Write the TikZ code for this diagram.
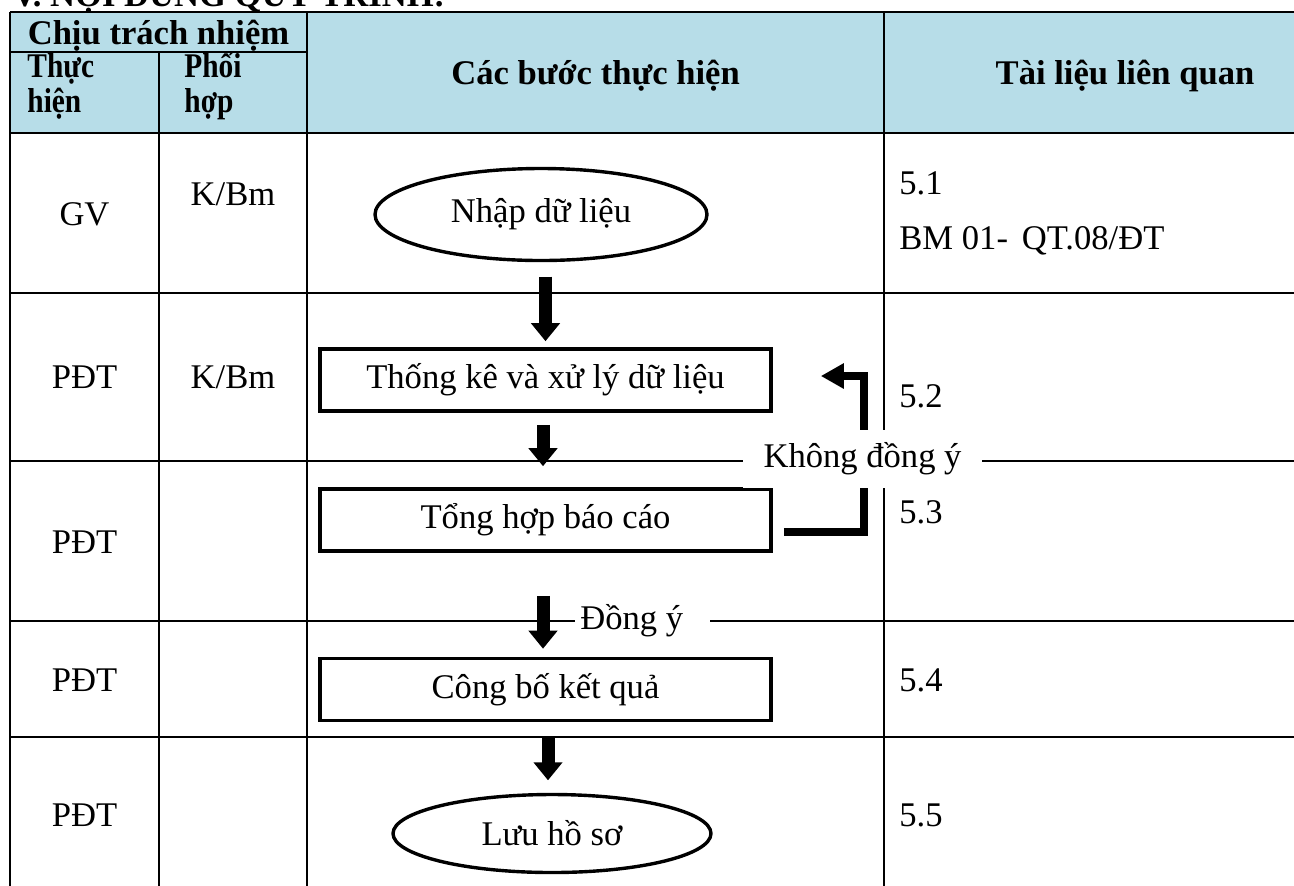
\documentclass[tikz,border=0pt]{standalone}
\usepackage{fontspec}
\setmainfont{Liberation Serif}
\usetikzlibrary{arrows.meta,shapes.geometric}
\definecolor{hdrblue}{RGB}{183,221,232}
\newcommand{\narrowtxt}[1]{\scalebox{0.85}[1]{#1}}
\begin{document}
\begin{tikzpicture}[x=0.5pt,y=-0.5pt,
  every node/.style={font=\fontsize{17.3pt}{21pt}\selectfont, inner sep=0pt},
  hdr/.style={font=\fontsize{17.3pt}{21pt}\selectfont\bfseries},
  grid/.style={line width=1.2pt},
  stepbox/.style={draw, line width=1.8pt, minimum width=225.5pt, minimum height=31pt},
  oval/.style={draw, ellipse, line width=1.7pt},
  flow/.style={line width=6.5pt, -{Triangle[width=14pt,length=9pt]}},
  back/.style={line width=4pt, -{Triangle[width=12pt,length=11.5pt]}},
  tag/.style={fill=white}
]
\useasboundingbox (0,0) rectangle (1294,885);

% header background and grid
\fill[hdrblue] (10,12) rectangle (1310,133);
\draw[grid] (10,12) -- (1310,12);
\draw[grid] (10,52) -- (307,52);
\draw[grid] (10,133) -- (1310,133);
\draw[grid] (10,293) -- (1310,293);
\draw[grid] (10,461) -- (1310,461);
\draw[grid] (10,621) -- (1310,621);
\draw[grid] (10,737) -- (1310,737);
\draw[grid] (10,12) -- (10,895);
\draw[grid] (159,52) -- (159,895);
\draw[grid] (307,12) -- (307,895);
\draw[grid] (884,12) -- (884,895);

% title (cut off by the page top, as in the reference)
\node[hdr, anchor=base west] (title) at (12,6) {V. NỘI DUNG QUY TRÌNH:};

% header texts
\node[hdr, anchor=base] (hresp) at (158.5,44) {Chịu trách nhiệm};
\node[hdr, anchor=base west] (hdo1) at (27,77) {\narrowtxt{Thực}};
\node[hdr, anchor=base west] (hdo2) at (27,112) {\narrowtxt{hiện}};
\node[hdr, anchor=base west] (hco1) at (184,77) {\narrowtxt{Phối}};
\node[hdr, anchor=base west] (hco2) at (184,112) {\narrowtxt{hợp}};
\node[hdr, anchor=base] (hsteps) at (595.5,84) {Các bước thực hiện};
\node[hdr, anchor=base] (hdocs) at (1125,84) {Tài liệu liên quan};

% responsibility columns
\node[anchor=base] (r1a) at (84.5,225) {GV};
\node[anchor=base] (r1b) at (233,205) {K/Bm};
\node[anchor=base] (r2a) at (84.5,388) {PĐT};
\node[anchor=base] (r2b) at (233,388) {K/Bm};
\node[anchor=base] (r3a) at (84.5,553) {PĐT};
\node[anchor=base] (r4a) at (84.5,691) {PĐT};
\node[anchor=base] (r5a) at (84.5,826) {PĐT};

% documents column
\node[anchor=base west] (d1) at (899,194) {5.1};
\node[anchor=base west] (d1b) at (899,249) {BM 01-\hspace{0.4em}QT.08/ĐT};
\node[anchor=base west] (d2) at (899,407) {5.2};
\node[anchor=base west] (d3) at (899,523) {5.3};
\node[anchor=base west] (d4) at (899,691) {5.4};
\node[anchor=base west] (d5) at (899,826) {5.5};

% flow steps
\node[oval, minimum width=166pt, minimum height=46pt] (n1) at (541,214.5) {Nhập dữ liệu};
\node[stepbox] (n2) at (545.5,380) {Thống kê và xử lý dữ liệu};
\node[stepbox] (n3) at (545.5,520) {Tổng hợp báo cáo};
\node[stepbox] (n4) at (545.5,689.5) {Công bố kết quả};
\node[oval, minimum width=159pt, minimum height=39pt] (n5) at (552,833.5) {Lưu hồ sơ};

% connectors
\draw[flow, shorten <=7.25pt, shorten >=3pt] (n1.south -| n2.north) -- (n2.north);
\draw[flow, shorten <=6pt, shorten >=10.5pt] ([xshift=-1.25pt]n2.south) -- ([xshift=-1.25pt]n3.north);
\draw[flow, shorten <=21.5pt, shorten >=4pt] ([xshift=-1.25pt]n3.south) -- ([xshift=-1.25pt]n4.north);
\draw[flow, shorten <=8pt, shorten >=6.25pt] ([xshift=1.25pt]n4.south) -- ([xshift=1.25pt]n4.south |- n5.north);
\draw[back] ([shift={(11,12)}]n3.east) -| ([shift={(91.5,-4)}]n2.east) -- ([shift={(48,-4)}]n2.east);

% labels on the row lines
\node[tag, minimum width=119.5pt, minimum height=29pt] (lno) at (862.5,459) {Không đồng ý};
\node[tag, anchor=west] (lyes) at (575,621) {\kern2.5pt Đồng ý\kern13.5pt};
\end{tikzpicture}
\end{document}
